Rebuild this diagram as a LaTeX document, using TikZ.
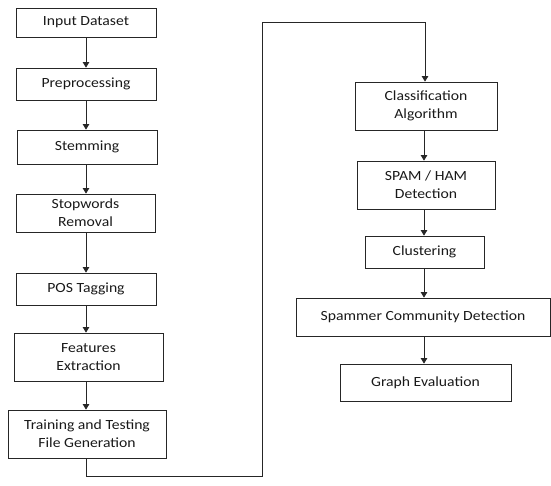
\documentclass[tikz,border=0pt]{standalone}
\usepackage{fontspec}
\setmainfont{Carlito}[FakeStretch=1.12]
\usetikzlibrary{arrows.meta}
\begin{document}
\begin{tikzpicture}[x=1pt,y=-1pt,
  box/.style={draw=black!85, line width=0.8pt, inner sep=0pt, align=center,
    font=\fontsize{14}{18}\selectfont, text=black!90},
  arr/.style={draw=black!85, line width=0.8pt, -{Triangle[width=6.5pt,length=5.5pt]}},
  line/.style={draw=black!85, line width=0.8pt}]
\useasboundingbox (0,0) rectangle (551,486);
% left column
\node[box, minimum width=140pt, minimum height=29pt] (in) at (86,22.5) {Input Dataset};
\node[box, minimum width=140pt, minimum height=32pt] (pre) at (86,84) {Preprocessing};
\node[box, minimum width=140pt, minimum height=34pt] (stem) at (87,147) {Stemming};
\node[box, minimum width=139pt, minimum height=38pt] (stop) at (85.5,213) {Stopwords\\Removal};
\node[box, minimum width=140pt, minimum height=32pt] (pos) at (86,289) {POS Tagging};
\node[box, minimum width=149pt, minimum height=48pt] (feat) at (88.5,357) {Features\\Extraction};
\node[box, minimum width=158pt, minimum height=48pt] (train) at (87,434) {Training and Testing\\File Generation};
% right column
\node[box, minimum width=142pt, minimum height=48pt] (class) at (426,106) {Classification\\Algorithm};
\node[box, minimum width=138pt, minimum height=48pt] (spam) at (426,185) {SPAM / HAM\\Detection};
\node[box, minimum width=119pt, minimum height=32pt] (clus) at (424.5,252) {Clustering};
\node[box, minimum width=254pt, minimum height=38pt] (spmr) at (423,317) {Spammer Community Detection};
\node[box, minimum width=171pt, minimum height=37pt] (graph) at (425.5,382.5) {Graph Evaluation};
% coordinates for the long connector
\coordinate (c1) at (86,476);
\coordinate (c2) at (262,476);
\coordinate (c3) at (262,22);
\coordinate (c4) at (425,22);
% arrows
\draw[arr] (in.south -| 86,0) -- (pre.north -| 86,0);
\draw[arr] (pre.south -| 86,0) -- (stem.north -| 86,0);
\draw[arr] (stem.south -| 86,0) -- (stop.north -| 86,0);
\draw[arr] (stop.south -| 86,0) -- (pos.north -| 86,0);
\draw[arr] (pos.south -| 86,0) -- (feat.north -| 86,0);
\draw[arr] (feat.south -| 86,0) -- (train.north -| 86,0);
\draw[arr] (train.south -| c1) -- (c1) -- (c2) -- (c3) -- (c4) -- (class.north -| c4);
\draw[arr] (class.south -| 424,0) -- (spam.north -| 424,0);
\draw[arr] (spam.south -| 424,0) -- (clus.north -| 424,0);
\draw[arr] (clus.south -| 424,0) -- (spmr.north -| 424,0);
\draw[arr] (spmr.south -| 424,0) -- (graph.north -| 424,0);
\end{tikzpicture}
\end{document}
